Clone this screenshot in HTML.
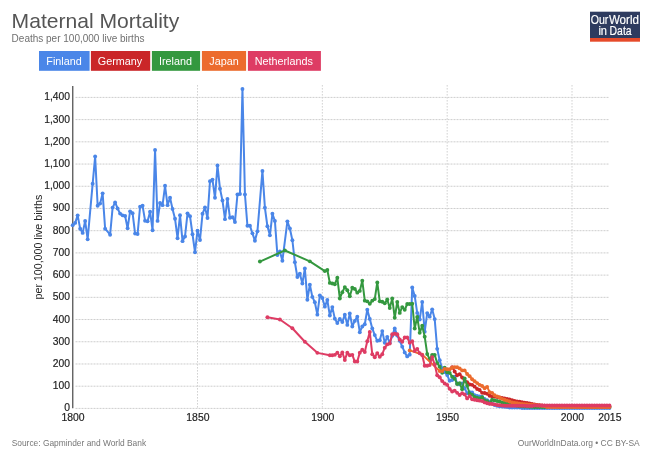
<!DOCTYPE html>
<html><head><meta charset="utf-8">
<style>
html,body{margin:0;padding:0;background:#fff;}
body{width:658px;height:466px;overflow:hidden;position:relative;font-family:"Liberation Sans",sans-serif;}
svg{position:absolute;left:0;top:0;will-change:transform;}
.g{stroke:#cdcdcd;stroke-width:1;stroke-dasharray:2,1;}
.gv{stroke:#d2d2d2;stroke-width:1;stroke-dasharray:1.6,1.4;}
.yt{font-size:10.3px;fill:#222;stroke:#222;stroke-width:0.18;text-anchor:end;}
.xt{font-size:10.4px;fill:#222;stroke:#222;stroke-width:0.18;text-anchor:middle;}
.yl{font-size:10.65px;fill:#222;text-anchor:middle;}
.btn{font-size:10.8px;fill:#fff;text-anchor:middle;}
</style></head><body>
<svg width="658" height="466" viewBox="0 0 658 466">
<text x="11.6" y="27.7" style="font-size:21.1px;fill:#555">Maternal Mortality</text>
<text x="11.6" y="41.8" style="font-size:10px;fill:#707070">Deaths per 100,000 live births</text>
<rect x="39" y="51" width="50.6" height="19.8" fill="#4A86E8"/><text x="64" y="64.5" class="btn">Finland</text>
<rect x="90.9" y="51" width="59.3" height="19.8" fill="#CA2628"/><text x="120" y="64.5" class="btn">Germany</text>
<rect x="151.9" y="51" width="48.2" height="19.8" fill="#34983F"/><text x="175.4" y="64.5" class="btn">Ireland</text>
<rect x="201.9" y="51" width="44.2" height="19.8" fill="#EC6B2D"/><text x="224" y="64.5" class="btn">Japan</text>
<rect x="247.9" y="51" width="73" height="19.8" fill="#DE3C64"/><text x="283.8" y="64.5" class="btn">Netherlands</text>
<rect x="590" y="11.7" width="50" height="26.3" fill="#2E3B5F"/>
<rect x="590" y="38" width="50" height="3.7" fill="#E64A2A"/>
<g style="font-size:12.8px;fill:#fff;stroke:#fff;stroke-width:0.2">
<text x="590.8" y="23.8" textLength="17.6" lengthAdjust="spacingAndGlyphs">Our</text>
<text x="608.9" y="23.8" textLength="30" lengthAdjust="spacingAndGlyphs">World</text>
<text x="598.4" y="34.5" textLength="8.6" lengthAdjust="spacingAndGlyphs">in</text>
<text x="609.6" y="34.5" textLength="22" lengthAdjust="spacingAndGlyphs">Data</text>
</g>
<line x1="75.5" x2="608.5" y1="408.4" y2="408.4" class="g"/>
<line x1="75.5" x2="608.5" y1="386.19" y2="386.19" class="g"/>
<line x1="75.5" x2="608.5" y1="363.97" y2="363.97" class="g"/>
<line x1="75.5" x2="608.5" y1="341.76" y2="341.76" class="g"/>
<line x1="75.5" x2="608.5" y1="319.54" y2="319.54" class="g"/>
<line x1="75.5" x2="608.5" y1="297.33" y2="297.33" class="g"/>
<line x1="75.5" x2="608.5" y1="275.12" y2="275.12" class="g"/>
<line x1="75.5" x2="608.5" y1="252.9" y2="252.9" class="g"/>
<line x1="75.5" x2="608.5" y1="230.69" y2="230.69" class="g"/>
<line x1="75.5" x2="608.5" y1="208.47" y2="208.47" class="g"/>
<line x1="75.5" x2="608.5" y1="186.26" y2="186.26" class="g"/>
<line x1="75.5" x2="608.5" y1="164.05" y2="164.05" class="g"/>
<line x1="75.5" x2="608.5" y1="141.83" y2="141.83" class="g"/>
<line x1="75.5" x2="608.5" y1="119.62" y2="119.62" class="g"/>
<line x1="75.5" x2="608.5" y1="97.4" y2="97.4" class="g"/>
<line x1="197.5" x2="197.5" y1="85" y2="409" class="gv"/>
<line x1="322.34" x2="322.34" y1="85" y2="409" class="gv"/>
<line x1="447.18" x2="447.18" y1="85" y2="409" class="gv"/>
<line x1="572.01" x2="572.01" y1="85" y2="409" class="gv"/>
<line x1="72.75" x2="72.75" y1="86" y2="408.3" stroke="#555" stroke-width="1.3"/>
<text x="70" y="411.4" class="yt">0</text>
<text x="70" y="389.19" class="yt">100</text>
<text x="70" y="366.97" class="yt">200</text>
<text x="70" y="344.76" class="yt">300</text>
<text x="70" y="322.54" class="yt">400</text>
<text x="70" y="300.33" class="yt">500</text>
<text x="70" y="278.12" class="yt">600</text>
<text x="70" y="255.9" class="yt">700</text>
<text x="70" y="233.69" class="yt">800</text>
<text x="70" y="211.47" class="yt">900</text>
<text x="70" y="189.26" class="yt">1,000</text>
<text x="70" y="167.05" class="yt">1,100</text>
<text x="70" y="144.83" class="yt">1,200</text>
<text x="70" y="122.62" class="yt">1,300</text>
<text x="70" y="100.4" class="yt">1,400</text>
<text x="73.07" y="421" class="xt">1800</text>
<text x="197.91" y="421" class="xt">1850</text>
<text x="322.74" y="421" class="xt">1900</text>
<text x="447.57" y="421" class="xt">1950</text>
<text x="572.41" y="421" class="xt">2000</text>
<text x="609.86" y="421" class="xt">2015</text>
<text transform="translate(41.7,247.1) rotate(-90)" class="yl">per 100,000 live births</text>
<g fill="#4A86E8" stroke="#4A86E8"><polyline points="72.67,225.13 75.17,222.91 77.66,215.36 80.16,228.69 82.66,232.91 85.15,220.91 87.65,239.35 92.64,183.82 95.14,156.49 97.64,205.81 100.13,203.59 102.63,193.37 105.13,228.69 110.12,234.69 112.62,207.59 115.11,202.48 117.61,208.47 120.11,213.58 122.6,215.36 125.1,216.03 127.6,228.24 130.09,211.36 132.59,213.14 135.09,233.58 137.58,234.02 140.08,206.7 142.58,205.81 145.07,220.69 147.57,221.36 150.07,211.81 152.56,230.24 155.06,150.05 157.56,220.91 160.05,202.92 162.55,205.14 165.05,185.82 167.54,205.14 170.04,197.81 172.54,208.92 175.03,218.69 177.53,238.24 180.03,215.14 182.52,241.13 185.02,236.46 187.52,213.36 190.01,216.25 192.51,234.24 195.01,252.24 197.5,230.69 200,240.02 202.5,213.81 205,207.36 207.49,218.03 209.99,181.15 212.49,179.6 214.98,197.81 217.48,165.38 219.98,188.7 222.47,200.48 224.97,219.14 227.47,198.92 229.96,217.8 232.46,217.14 234.96,222.02 237.45,194.48 239.95,194.03 242.45,88.96 244.94,194.48 247.44,225.8 249.94,225.8 252.43,233.35 254.93,240.68 257.43,231.35 262.42,170.93 264.92,207.81 267.41,226.25 269.91,235.35 272.41,213.81 274.9,220.91 277.4,255.12 279.9,251.57 282.39,260.68 287.39,221.36 289.88,228.47 292.38,240.24 294.88,262.23 297.37,277.12 299.87,273.78 302.37,283.56 304.86,268.45 307.36,299.77 309.86,284.67 312.35,296.89 314.85,302.22 317.35,314.66 319.84,295.33 322.34,298 324.84,306.66 327.33,300 329.83,315.55 332.33,307.1 334.82,318.66 337.32,323.1 339.82,318.88 342.31,321.99 344.81,314.66 347.31,324.88 349.8,313.55 352.3,326.43 354.8,320.88 357.29,316.66 359.79,332.21 362.29,326.43 364.78,324.21 367.28,309.77 369.78,318.88 372.27,328.43 374.77,335.09 377.27,340.87 379.76,340.2 382.26,331.1 384.76,342.87 387.25,336.87 389.75,342.87 392.25,335.76 394.74,328.43 397.24,335.54 399.74,340.87 402.23,346.65 404.73,352.42 407.23,356.42 409.72,354.64 412.22,287.56 414.72,296 417.21,312.88 419.71,319.54 422.21,301.99 424.7,331.76 427.2,313.1 429.7,316.66 432.19,309.33 434.69,319.1 437.19,348.87 439.68,360.2 442.18,368.41 444.68,371.97 447.18,375.08 449.67,380.85 452.17,379.97 454.67,376.63 457.16,383.52 459.66,384.41 462.16,383.52 464.65,388.41 467.15,393.29 469.65,392.18 472.14,392.41 474.64,395.29 477.14,395.96 479.63,396.4 482.13,396.85 484.63,399.07 487.12,400.18 489.62,401.74 492.12,403.51 494.61,405.07 497.11,405.73 499.61,406.18 502.1,406.62 504.6,406.85 507.1,407.07 509.59,407.51 512.09,407.51 514.59,407.51 517.08,407.51 519.58,407.51 522.08,407.96 524.57,407.96 527.07,407.96 529.57,407.96 532.06,407.96 534.56,407.96 537.06,407.96 539.55,407.96 542.05,407.96 544.55,407.96 547.04,407.96 549.54,407.96 552.04,407.96 554.53,407.96 557.03,407.96 559.53,407.96 562.02,407.96 564.52,407.96 567.02,407.96 569.51,407.96 572.01,407.96 574.51,407.96 577,407.96 579.5,407.96 582,407.96 584.49,407.96 586.99,407.96 589.49,407.96 591.98,407.96 594.48,407.96 596.98,407.96 599.47,407.96 601.97,407.96 604.47,407.96 606.96,407.96 609.46,407.96" fill="none" stroke-width="2" stroke-linejoin="round"/>
<circle cx="72.67" cy="225.13" r="1.95" stroke="none"/><circle cx="75.17" cy="222.91" r="1.95" stroke="none"/><circle cx="77.66" cy="215.36" r="1.95" stroke="none"/><circle cx="80.16" cy="228.69" r="1.95" stroke="none"/><circle cx="82.66" cy="232.91" r="1.95" stroke="none"/><circle cx="85.15" cy="220.91" r="1.95" stroke="none"/><circle cx="87.65" cy="239.35" r="1.95" stroke="none"/><circle cx="92.64" cy="183.82" r="1.95" stroke="none"/><circle cx="95.14" cy="156.49" r="1.95" stroke="none"/><circle cx="97.64" cy="205.81" r="1.95" stroke="none"/><circle cx="100.13" cy="203.59" r="1.95" stroke="none"/><circle cx="102.63" cy="193.37" r="1.95" stroke="none"/><circle cx="105.13" cy="228.69" r="1.95" stroke="none"/><circle cx="110.12" cy="234.69" r="1.95" stroke="none"/><circle cx="112.62" cy="207.59" r="1.95" stroke="none"/><circle cx="115.11" cy="202.48" r="1.95" stroke="none"/><circle cx="117.61" cy="208.47" r="1.95" stroke="none"/><circle cx="120.11" cy="213.58" r="1.95" stroke="none"/><circle cx="122.6" cy="215.36" r="1.95" stroke="none"/><circle cx="125.1" cy="216.03" r="1.95" stroke="none"/><circle cx="127.6" cy="228.24" r="1.95" stroke="none"/><circle cx="130.09" cy="211.36" r="1.95" stroke="none"/><circle cx="132.59" cy="213.14" r="1.95" stroke="none"/><circle cx="135.09" cy="233.58" r="1.95" stroke="none"/><circle cx="137.58" cy="234.02" r="1.95" stroke="none"/><circle cx="140.08" cy="206.7" r="1.95" stroke="none"/><circle cx="142.58" cy="205.81" r="1.95" stroke="none"/><circle cx="145.07" cy="220.69" r="1.95" stroke="none"/><circle cx="147.57" cy="221.36" r="1.95" stroke="none"/><circle cx="150.07" cy="211.81" r="1.95" stroke="none"/><circle cx="152.56" cy="230.24" r="1.95" stroke="none"/><circle cx="155.06" cy="150.05" r="1.95" stroke="none"/><circle cx="157.56" cy="220.91" r="1.95" stroke="none"/><circle cx="160.05" cy="202.92" r="1.95" stroke="none"/><circle cx="162.55" cy="205.14" r="1.95" stroke="none"/><circle cx="165.05" cy="185.82" r="1.95" stroke="none"/><circle cx="167.54" cy="205.14" r="1.95" stroke="none"/><circle cx="170.04" cy="197.81" r="1.95" stroke="none"/><circle cx="172.54" cy="208.92" r="1.95" stroke="none"/><circle cx="175.03" cy="218.69" r="1.95" stroke="none"/><circle cx="177.53" cy="238.24" r="1.95" stroke="none"/><circle cx="180.03" cy="215.14" r="1.95" stroke="none"/><circle cx="182.52" cy="241.13" r="1.95" stroke="none"/><circle cx="185.02" cy="236.46" r="1.95" stroke="none"/><circle cx="187.52" cy="213.36" r="1.95" stroke="none"/><circle cx="190.01" cy="216.25" r="1.95" stroke="none"/><circle cx="192.51" cy="234.24" r="1.95" stroke="none"/><circle cx="195.01" cy="252.24" r="1.95" stroke="none"/><circle cx="197.5" cy="230.69" r="1.95" stroke="none"/><circle cx="200" cy="240.02" r="1.95" stroke="none"/><circle cx="202.5" cy="213.81" r="1.95" stroke="none"/><circle cx="205" cy="207.36" r="1.95" stroke="none"/><circle cx="207.49" cy="218.03" r="1.95" stroke="none"/><circle cx="209.99" cy="181.15" r="1.95" stroke="none"/><circle cx="212.49" cy="179.6" r="1.95" stroke="none"/><circle cx="214.98" cy="197.81" r="1.95" stroke="none"/><circle cx="217.48" cy="165.38" r="1.95" stroke="none"/><circle cx="219.98" cy="188.7" r="1.95" stroke="none"/><circle cx="222.47" cy="200.48" r="1.95" stroke="none"/><circle cx="224.97" cy="219.14" r="1.95" stroke="none"/><circle cx="227.47" cy="198.92" r="1.95" stroke="none"/><circle cx="229.96" cy="217.8" r="1.95" stroke="none"/><circle cx="232.46" cy="217.14" r="1.95" stroke="none"/><circle cx="234.96" cy="222.02" r="1.95" stroke="none"/><circle cx="237.45" cy="194.48" r="1.95" stroke="none"/><circle cx="239.95" cy="194.03" r="1.95" stroke="none"/><circle cx="242.45" cy="88.96" r="1.95" stroke="none"/><circle cx="244.94" cy="194.48" r="1.95" stroke="none"/><circle cx="247.44" cy="225.8" r="1.95" stroke="none"/><circle cx="249.94" cy="225.8" r="1.95" stroke="none"/><circle cx="252.43" cy="233.35" r="1.95" stroke="none"/><circle cx="254.93" cy="240.68" r="1.95" stroke="none"/><circle cx="257.43" cy="231.35" r="1.95" stroke="none"/><circle cx="262.42" cy="170.93" r="1.95" stroke="none"/><circle cx="264.92" cy="207.81" r="1.95" stroke="none"/><circle cx="267.41" cy="226.25" r="1.95" stroke="none"/><circle cx="269.91" cy="235.35" r="1.95" stroke="none"/><circle cx="272.41" cy="213.81" r="1.95" stroke="none"/><circle cx="274.9" cy="220.91" r="1.95" stroke="none"/><circle cx="277.4" cy="255.12" r="1.95" stroke="none"/><circle cx="279.9" cy="251.57" r="1.95" stroke="none"/><circle cx="282.39" cy="260.68" r="1.95" stroke="none"/><circle cx="287.39" cy="221.36" r="1.95" stroke="none"/><circle cx="289.88" cy="228.47" r="1.95" stroke="none"/><circle cx="292.38" cy="240.24" r="1.95" stroke="none"/><circle cx="294.88" cy="262.23" r="1.95" stroke="none"/><circle cx="297.37" cy="277.12" r="1.95" stroke="none"/><circle cx="299.87" cy="273.78" r="1.95" stroke="none"/><circle cx="302.37" cy="283.56" r="1.95" stroke="none"/><circle cx="304.86" cy="268.45" r="1.95" stroke="none"/><circle cx="307.36" cy="299.77" r="1.95" stroke="none"/><circle cx="309.86" cy="284.67" r="1.95" stroke="none"/><circle cx="312.35" cy="296.89" r="1.95" stroke="none"/><circle cx="314.85" cy="302.22" r="1.95" stroke="none"/><circle cx="317.35" cy="314.66" r="1.95" stroke="none"/><circle cx="319.84" cy="295.33" r="1.95" stroke="none"/><circle cx="322.34" cy="298" r="1.95" stroke="none"/><circle cx="324.84" cy="306.66" r="1.95" stroke="none"/><circle cx="327.33" cy="300" r="1.95" stroke="none"/><circle cx="329.83" cy="315.55" r="1.95" stroke="none"/><circle cx="332.33" cy="307.1" r="1.95" stroke="none"/><circle cx="334.82" cy="318.66" r="1.95" stroke="none"/><circle cx="337.32" cy="323.1" r="1.95" stroke="none"/><circle cx="339.82" cy="318.88" r="1.95" stroke="none"/><circle cx="342.31" cy="321.99" r="1.95" stroke="none"/><circle cx="344.81" cy="314.66" r="1.95" stroke="none"/><circle cx="347.31" cy="324.88" r="1.95" stroke="none"/><circle cx="349.8" cy="313.55" r="1.95" stroke="none"/><circle cx="352.3" cy="326.43" r="1.95" stroke="none"/><circle cx="354.8" cy="320.88" r="1.95" stroke="none"/><circle cx="357.29" cy="316.66" r="1.95" stroke="none"/><circle cx="359.79" cy="332.21" r="1.95" stroke="none"/><circle cx="362.29" cy="326.43" r="1.95" stroke="none"/><circle cx="364.78" cy="324.21" r="1.95" stroke="none"/><circle cx="367.28" cy="309.77" r="1.95" stroke="none"/><circle cx="369.78" cy="318.88" r="1.95" stroke="none"/><circle cx="372.27" cy="328.43" r="1.95" stroke="none"/><circle cx="374.77" cy="335.09" r="1.95" stroke="none"/><circle cx="377.27" cy="340.87" r="1.95" stroke="none"/><circle cx="379.76" cy="340.2" r="1.95" stroke="none"/><circle cx="382.26" cy="331.1" r="1.95" stroke="none"/><circle cx="384.76" cy="342.87" r="1.95" stroke="none"/><circle cx="387.25" cy="336.87" r="1.95" stroke="none"/><circle cx="389.75" cy="342.87" r="1.95" stroke="none"/><circle cx="392.25" cy="335.76" r="1.95" stroke="none"/><circle cx="394.74" cy="328.43" r="1.95" stroke="none"/><circle cx="397.24" cy="335.54" r="1.95" stroke="none"/><circle cx="399.74" cy="340.87" r="1.95" stroke="none"/><circle cx="402.23" cy="346.65" r="1.95" stroke="none"/><circle cx="404.73" cy="352.42" r="1.95" stroke="none"/><circle cx="407.23" cy="356.42" r="1.95" stroke="none"/><circle cx="409.72" cy="354.64" r="1.95" stroke="none"/><circle cx="412.22" cy="287.56" r="1.95" stroke="none"/><circle cx="414.72" cy="296" r="1.95" stroke="none"/><circle cx="417.21" cy="312.88" r="1.95" stroke="none"/><circle cx="419.71" cy="319.54" r="1.95" stroke="none"/><circle cx="422.21" cy="301.99" r="1.95" stroke="none"/><circle cx="424.7" cy="331.76" r="1.95" stroke="none"/><circle cx="427.2" cy="313.1" r="1.95" stroke="none"/><circle cx="429.7" cy="316.66" r="1.95" stroke="none"/><circle cx="432.19" cy="309.33" r="1.95" stroke="none"/><circle cx="434.69" cy="319.1" r="1.95" stroke="none"/><circle cx="437.19" cy="348.87" r="1.95" stroke="none"/><circle cx="439.68" cy="360.2" r="1.95" stroke="none"/><circle cx="442.18" cy="368.41" r="1.95" stroke="none"/><circle cx="444.68" cy="371.97" r="1.95" stroke="none"/><circle cx="447.18" cy="375.08" r="1.95" stroke="none"/><circle cx="449.67" cy="380.85" r="1.95" stroke="none"/><circle cx="452.17" cy="379.97" r="1.95" stroke="none"/><circle cx="454.67" cy="376.63" r="1.95" stroke="none"/><circle cx="457.16" cy="383.52" r="1.95" stroke="none"/><circle cx="459.66" cy="384.41" r="1.95" stroke="none"/><circle cx="462.16" cy="383.52" r="1.95" stroke="none"/><circle cx="464.65" cy="388.41" r="1.95" stroke="none"/><circle cx="467.15" cy="393.29" r="1.95" stroke="none"/><circle cx="469.65" cy="392.18" r="1.95" stroke="none"/><circle cx="472.14" cy="392.41" r="1.95" stroke="none"/><circle cx="474.64" cy="395.29" r="1.95" stroke="none"/><circle cx="477.14" cy="395.96" r="1.95" stroke="none"/><circle cx="479.63" cy="396.4" r="1.95" stroke="none"/><circle cx="482.13" cy="396.85" r="1.95" stroke="none"/><circle cx="484.63" cy="399.07" r="1.95" stroke="none"/><circle cx="487.12" cy="400.18" r="1.95" stroke="none"/><circle cx="489.62" cy="401.74" r="1.95" stroke="none"/><circle cx="492.12" cy="403.51" r="1.95" stroke="none"/><circle cx="494.61" cy="405.07" r="1.95" stroke="none"/><circle cx="497.11" cy="405.73" r="1.95" stroke="none"/><circle cx="499.61" cy="406.18" r="1.95" stroke="none"/><circle cx="502.1" cy="406.62" r="1.95" stroke="none"/><circle cx="504.6" cy="406.85" r="1.95" stroke="none"/><circle cx="507.1" cy="407.07" r="1.95" stroke="none"/><circle cx="509.59" cy="407.51" r="1.95" stroke="none"/><circle cx="512.09" cy="407.51" r="1.95" stroke="none"/><circle cx="514.59" cy="407.51" r="1.95" stroke="none"/><circle cx="517.08" cy="407.51" r="1.95" stroke="none"/><circle cx="519.58" cy="407.51" r="1.95" stroke="none"/><circle cx="522.08" cy="407.96" r="1.95" stroke="none"/><circle cx="524.57" cy="407.96" r="1.95" stroke="none"/><circle cx="527.07" cy="407.96" r="1.95" stroke="none"/><circle cx="529.57" cy="407.96" r="1.95" stroke="none"/><circle cx="532.06" cy="407.96" r="1.95" stroke="none"/><circle cx="534.56" cy="407.96" r="1.95" stroke="none"/><circle cx="537.06" cy="407.96" r="1.95" stroke="none"/><circle cx="539.55" cy="407.96" r="1.95" stroke="none"/><circle cx="542.05" cy="407.96" r="1.95" stroke="none"/><circle cx="544.55" cy="407.96" r="1.95" stroke="none"/><circle cx="547.04" cy="407.96" r="1.95" stroke="none"/><circle cx="549.54" cy="407.96" r="1.95" stroke="none"/><circle cx="552.04" cy="407.96" r="1.95" stroke="none"/><circle cx="554.53" cy="407.96" r="1.95" stroke="none"/><circle cx="557.03" cy="407.96" r="1.95" stroke="none"/><circle cx="559.53" cy="407.96" r="1.95" stroke="none"/><circle cx="562.02" cy="407.96" r="1.95" stroke="none"/><circle cx="564.52" cy="407.96" r="1.95" stroke="none"/><circle cx="567.02" cy="407.96" r="1.95" stroke="none"/><circle cx="569.51" cy="407.96" r="1.95" stroke="none"/><circle cx="572.01" cy="407.96" r="1.95" stroke="none"/><circle cx="574.51" cy="407.96" r="1.95" stroke="none"/><circle cx="577" cy="407.96" r="1.95" stroke="none"/><circle cx="579.5" cy="407.96" r="1.95" stroke="none"/><circle cx="582" cy="407.96" r="1.95" stroke="none"/><circle cx="584.49" cy="407.96" r="1.95" stroke="none"/><circle cx="586.99" cy="407.96" r="1.95" stroke="none"/><circle cx="589.49" cy="407.96" r="1.95" stroke="none"/><circle cx="591.98" cy="407.96" r="1.95" stroke="none"/><circle cx="594.48" cy="407.96" r="1.95" stroke="none"/><circle cx="596.98" cy="407.96" r="1.95" stroke="none"/><circle cx="599.47" cy="407.96" r="1.95" stroke="none"/><circle cx="601.97" cy="407.96" r="1.95" stroke="none"/><circle cx="604.47" cy="407.96" r="1.95" stroke="none"/><circle cx="606.96" cy="407.96" r="1.95" stroke="none"/><circle cx="609.46" cy="407.96" r="1.95" stroke="none"/></g>
<g fill="#CA2628" stroke="#CA2628"><polyline points="452.17,367.08 454.67,371.52 457.16,375.3 459.66,374.19 462.16,377.52 464.65,380.85 467.15,382.19 469.65,384.41 472.14,384.85 474.64,386.63 477.14,389.07 479.63,389.96 482.13,392.85 484.63,393.07 487.12,393.74 489.62,395.74 492.12,396.4 494.61,396.63 497.11,397.07 499.61,397.52 502.1,397.96 504.6,398.4 507.1,399.07 509.59,399.51 512.09,400.18 514.59,400.85 517.08,401.51 519.58,401.74 522.08,402.18 524.57,402.62 527.07,403.07 529.57,403.51 532.06,403.96 534.56,404.4 537.06,404.85 539.55,405.29 542.05,405.51 544.55,405.73 547.04,405.96 549.54,406.18 552.04,406.4 554.53,406.4 557.03,406.62 559.53,406.62 562.02,406.62 564.52,406.62 567.02,406.62 569.51,406.62 572.01,406.62 574.51,406.62 577,406.85 579.5,406.85 582,406.85 584.49,406.85 586.99,406.85 589.49,406.85 591.98,406.85 594.48,406.85 596.98,406.85 599.47,406.85 601.97,406.85 604.47,406.85 606.96,406.85 609.46,406.85" fill="none" stroke-width="2" stroke-linejoin="round"/>
<circle cx="452.17" cy="367.08" r="1.95" stroke="none"/><circle cx="454.67" cy="371.52" r="1.95" stroke="none"/><circle cx="457.16" cy="375.3" r="1.95" stroke="none"/><circle cx="459.66" cy="374.19" r="1.95" stroke="none"/><circle cx="462.16" cy="377.52" r="1.95" stroke="none"/><circle cx="464.65" cy="380.85" r="1.95" stroke="none"/><circle cx="467.15" cy="382.19" r="1.95" stroke="none"/><circle cx="469.65" cy="384.41" r="1.95" stroke="none"/><circle cx="472.14" cy="384.85" r="1.95" stroke="none"/><circle cx="474.64" cy="386.63" r="1.95" stroke="none"/><circle cx="477.14" cy="389.07" r="1.95" stroke="none"/><circle cx="479.63" cy="389.96" r="1.95" stroke="none"/><circle cx="482.13" cy="392.85" r="1.95" stroke="none"/><circle cx="484.63" cy="393.07" r="1.95" stroke="none"/><circle cx="487.12" cy="393.74" r="1.95" stroke="none"/><circle cx="489.62" cy="395.74" r="1.95" stroke="none"/><circle cx="492.12" cy="396.4" r="1.95" stroke="none"/><circle cx="494.61" cy="396.63" r="1.95" stroke="none"/><circle cx="497.11" cy="397.07" r="1.95" stroke="none"/><circle cx="499.61" cy="397.52" r="1.95" stroke="none"/><circle cx="502.1" cy="397.96" r="1.95" stroke="none"/><circle cx="504.6" cy="398.4" r="1.95" stroke="none"/><circle cx="507.1" cy="399.07" r="1.95" stroke="none"/><circle cx="509.59" cy="399.51" r="1.95" stroke="none"/><circle cx="512.09" cy="400.18" r="1.95" stroke="none"/><circle cx="514.59" cy="400.85" r="1.95" stroke="none"/><circle cx="517.08" cy="401.51" r="1.95" stroke="none"/><circle cx="519.58" cy="401.74" r="1.95" stroke="none"/><circle cx="522.08" cy="402.18" r="1.95" stroke="none"/><circle cx="524.57" cy="402.62" r="1.95" stroke="none"/><circle cx="527.07" cy="403.07" r="1.95" stroke="none"/><circle cx="529.57" cy="403.51" r="1.95" stroke="none"/><circle cx="532.06" cy="403.96" r="1.95" stroke="none"/><circle cx="534.56" cy="404.4" r="1.95" stroke="none"/><circle cx="537.06" cy="404.85" r="1.95" stroke="none"/><circle cx="539.55" cy="405.29" r="1.95" stroke="none"/><circle cx="542.05" cy="405.51" r="1.95" stroke="none"/><circle cx="544.55" cy="405.73" r="1.95" stroke="none"/><circle cx="547.04" cy="405.96" r="1.95" stroke="none"/><circle cx="549.54" cy="406.18" r="1.95" stroke="none"/><circle cx="552.04" cy="406.4" r="1.95" stroke="none"/><circle cx="554.53" cy="406.4" r="1.95" stroke="none"/><circle cx="557.03" cy="406.62" r="1.95" stroke="none"/><circle cx="559.53" cy="406.62" r="1.95" stroke="none"/><circle cx="562.02" cy="406.62" r="1.95" stroke="none"/><circle cx="564.52" cy="406.62" r="1.95" stroke="none"/><circle cx="567.02" cy="406.62" r="1.95" stroke="none"/><circle cx="569.51" cy="406.62" r="1.95" stroke="none"/><circle cx="572.01" cy="406.62" r="1.95" stroke="none"/><circle cx="574.51" cy="406.62" r="1.95" stroke="none"/><circle cx="577" cy="406.85" r="1.95" stroke="none"/><circle cx="579.5" cy="406.85" r="1.95" stroke="none"/><circle cx="582" cy="406.85" r="1.95" stroke="none"/><circle cx="584.49" cy="406.85" r="1.95" stroke="none"/><circle cx="586.99" cy="406.85" r="1.95" stroke="none"/><circle cx="589.49" cy="406.85" r="1.95" stroke="none"/><circle cx="591.98" cy="406.85" r="1.95" stroke="none"/><circle cx="594.48" cy="406.85" r="1.95" stroke="none"/><circle cx="596.98" cy="406.85" r="1.95" stroke="none"/><circle cx="599.47" cy="406.85" r="1.95" stroke="none"/><circle cx="601.97" cy="406.85" r="1.95" stroke="none"/><circle cx="604.47" cy="406.85" r="1.95" stroke="none"/><circle cx="606.96" cy="406.85" r="1.95" stroke="none"/><circle cx="609.46" cy="406.85" r="1.95" stroke="none"/></g>
<g fill="#34983F" stroke="#34983F"><polyline points="259.92,261.57 284.89,250.46 309.86,261.34 324.84,271.12 327.33,270.01 329.83,282.89 332.33,283.56 334.82,284.22 337.32,277.78 339.82,298.44 342.31,292.22 344.81,287.11 347.31,290.22 349.8,296.22 352.3,287.78 354.8,288.89 357.29,292.67 359.79,290.89 362.29,280.67 364.78,300.66 367.28,301.33 369.78,303.77 372.27,300.66 374.77,299.11 377.27,282.45 379.76,301.33 382.26,301.77 384.76,303.33 387.25,299.55 389.75,307.99 392.25,298.44 394.74,317.77 397.24,301.99 399.74,312.88 402.23,307.1 404.73,309.77 407.23,303.99 409.72,303.99 412.22,303.77 414.72,328.43 417.21,316.88 419.71,332.87 422.21,325.76 424.7,336.65 427.2,353.98 429.7,359.31 432.19,354.86 434.69,354.86 437.19,363.08 439.68,366.64 442.18,372.86 444.68,367.75 447.18,372.19 449.67,372.86 452.17,376.63 454.67,378.63 457.16,383.96 459.66,383.3 462.16,389.3 464.65,378.41 467.15,385.74 469.65,393.52 472.14,394.63 474.64,396.85 477.14,397.74 479.63,398.4 482.13,397.29 484.63,400.4 487.12,401.29 489.62,403.51 492.12,399.74 494.61,400.4 497.11,401.07 499.61,401.51 502.1,402.4 504.6,403.07 507.1,403.74 509.59,404.18 512.09,404.85 514.59,405.29 517.08,405.73 519.58,406.18 522.08,406.4 524.57,406.62 527.07,406.62 529.57,406.85 532.06,406.85 534.56,407.07 537.06,407.07 539.55,407.07 542.05,407.07 544.55,407.07 547.04,407.07 559.53,407.07 572.01,407.07 584.49,407.07 596.98,407.07 609.46,406.85" fill="none" stroke-width="2" stroke-linejoin="round"/>
<circle cx="259.92" cy="261.57" r="1.95" stroke="none"/><circle cx="284.89" cy="250.46" r="1.95" stroke="none"/><circle cx="309.86" cy="261.34" r="1.95" stroke="none"/><circle cx="324.84" cy="271.12" r="1.95" stroke="none"/><circle cx="327.33" cy="270.01" r="1.95" stroke="none"/><circle cx="329.83" cy="282.89" r="1.95" stroke="none"/><circle cx="332.33" cy="283.56" r="1.95" stroke="none"/><circle cx="334.82" cy="284.22" r="1.95" stroke="none"/><circle cx="337.32" cy="277.78" r="1.95" stroke="none"/><circle cx="339.82" cy="298.44" r="1.95" stroke="none"/><circle cx="342.31" cy="292.22" r="1.95" stroke="none"/><circle cx="344.81" cy="287.11" r="1.95" stroke="none"/><circle cx="347.31" cy="290.22" r="1.95" stroke="none"/><circle cx="349.8" cy="296.22" r="1.95" stroke="none"/><circle cx="352.3" cy="287.78" r="1.95" stroke="none"/><circle cx="354.8" cy="288.89" r="1.95" stroke="none"/><circle cx="357.29" cy="292.67" r="1.95" stroke="none"/><circle cx="359.79" cy="290.89" r="1.95" stroke="none"/><circle cx="362.29" cy="280.67" r="1.95" stroke="none"/><circle cx="364.78" cy="300.66" r="1.95" stroke="none"/><circle cx="367.28" cy="301.33" r="1.95" stroke="none"/><circle cx="369.78" cy="303.77" r="1.95" stroke="none"/><circle cx="372.27" cy="300.66" r="1.95" stroke="none"/><circle cx="374.77" cy="299.11" r="1.95" stroke="none"/><circle cx="377.27" cy="282.45" r="1.95" stroke="none"/><circle cx="379.76" cy="301.33" r="1.95" stroke="none"/><circle cx="382.26" cy="301.77" r="1.95" stroke="none"/><circle cx="384.76" cy="303.33" r="1.95" stroke="none"/><circle cx="387.25" cy="299.55" r="1.95" stroke="none"/><circle cx="389.75" cy="307.99" r="1.95" stroke="none"/><circle cx="392.25" cy="298.44" r="1.95" stroke="none"/><circle cx="394.74" cy="317.77" r="1.95" stroke="none"/><circle cx="397.24" cy="301.99" r="1.95" stroke="none"/><circle cx="399.74" cy="312.88" r="1.95" stroke="none"/><circle cx="402.23" cy="307.1" r="1.95" stroke="none"/><circle cx="404.73" cy="309.77" r="1.95" stroke="none"/><circle cx="407.23" cy="303.99" r="1.95" stroke="none"/><circle cx="409.72" cy="303.99" r="1.95" stroke="none"/><circle cx="412.22" cy="303.77" r="1.95" stroke="none"/><circle cx="414.72" cy="328.43" r="1.95" stroke="none"/><circle cx="417.21" cy="316.88" r="1.95" stroke="none"/><circle cx="419.71" cy="332.87" r="1.95" stroke="none"/><circle cx="422.21" cy="325.76" r="1.95" stroke="none"/><circle cx="424.7" cy="336.65" r="1.95" stroke="none"/><circle cx="427.2" cy="353.98" r="1.95" stroke="none"/><circle cx="429.7" cy="359.31" r="1.95" stroke="none"/><circle cx="432.19" cy="354.86" r="1.95" stroke="none"/><circle cx="434.69" cy="354.86" r="1.95" stroke="none"/><circle cx="437.19" cy="363.08" r="1.95" stroke="none"/><circle cx="439.68" cy="366.64" r="1.95" stroke="none"/><circle cx="442.18" cy="372.86" r="1.95" stroke="none"/><circle cx="444.68" cy="367.75" r="1.95" stroke="none"/><circle cx="447.18" cy="372.19" r="1.95" stroke="none"/><circle cx="449.67" cy="372.86" r="1.95" stroke="none"/><circle cx="452.17" cy="376.63" r="1.95" stroke="none"/><circle cx="454.67" cy="378.63" r="1.95" stroke="none"/><circle cx="457.16" cy="383.96" r="1.95" stroke="none"/><circle cx="459.66" cy="383.3" r="1.95" stroke="none"/><circle cx="462.16" cy="389.3" r="1.95" stroke="none"/><circle cx="464.65" cy="378.41" r="1.95" stroke="none"/><circle cx="467.15" cy="385.74" r="1.95" stroke="none"/><circle cx="469.65" cy="393.52" r="1.95" stroke="none"/><circle cx="472.14" cy="394.63" r="1.95" stroke="none"/><circle cx="474.64" cy="396.85" r="1.95" stroke="none"/><circle cx="477.14" cy="397.74" r="1.95" stroke="none"/><circle cx="479.63" cy="398.4" r="1.95" stroke="none"/><circle cx="482.13" cy="397.29" r="1.95" stroke="none"/><circle cx="484.63" cy="400.4" r="1.95" stroke="none"/><circle cx="487.12" cy="401.29" r="1.95" stroke="none"/><circle cx="489.62" cy="403.51" r="1.95" stroke="none"/><circle cx="492.12" cy="399.74" r="1.95" stroke="none"/><circle cx="494.61" cy="400.4" r="1.95" stroke="none"/><circle cx="497.11" cy="401.07" r="1.95" stroke="none"/><circle cx="499.61" cy="401.51" r="1.95" stroke="none"/><circle cx="502.1" cy="402.4" r="1.95" stroke="none"/><circle cx="504.6" cy="403.07" r="1.95" stroke="none"/><circle cx="507.1" cy="403.74" r="1.95" stroke="none"/><circle cx="509.59" cy="404.18" r="1.95" stroke="none"/><circle cx="512.09" cy="404.85" r="1.95" stroke="none"/><circle cx="514.59" cy="405.29" r="1.95" stroke="none"/><circle cx="517.08" cy="405.73" r="1.95" stroke="none"/><circle cx="519.58" cy="406.18" r="1.95" stroke="none"/><circle cx="522.08" cy="406.4" r="1.95" stroke="none"/><circle cx="524.57" cy="406.62" r="1.95" stroke="none"/><circle cx="527.07" cy="406.62" r="1.95" stroke="none"/><circle cx="529.57" cy="406.85" r="1.95" stroke="none"/><circle cx="532.06" cy="406.85" r="1.95" stroke="none"/><circle cx="534.56" cy="407.07" r="1.95" stroke="none"/><circle cx="537.06" cy="407.07" r="1.95" stroke="none"/><circle cx="539.55" cy="407.07" r="1.95" stroke="none"/><circle cx="542.05" cy="407.07" r="1.95" stroke="none"/><circle cx="544.55" cy="407.07" r="1.95" stroke="none"/><circle cx="547.04" cy="407.07" r="1.95" stroke="none"/><circle cx="559.53" cy="407.07" r="1.95" stroke="none"/><circle cx="572.01" cy="407.07" r="1.95" stroke="none"/><circle cx="584.49" cy="407.07" r="1.95" stroke="none"/><circle cx="596.98" cy="407.07" r="1.95" stroke="none"/><circle cx="609.46" cy="406.85" r="1.95" stroke="none"/></g>
<g fill="#EC6B2D" stroke="#EC6B2D"><polyline points="409.72,350.42 422.21,354.64 439.68,371.08 442.18,371.08 444.68,368.86 447.18,369.3 449.67,369.3 452.17,367.75 454.67,367.08 457.16,367.3 459.66,368.41 462.16,370.41 464.65,370.41 467.15,373.97 469.65,376.19 472.14,379.3 474.64,381.3 477.14,383.08 479.63,384.85 482.13,385.96 484.63,388.19 487.12,386.85 489.62,392.18 492.12,392.85 494.61,395.29 497.11,396.4 499.61,397.52 502.1,398.85 504.6,399.74 507.1,400.63 509.59,401.51 512.09,402.4 514.59,402.85 517.08,403.29 519.58,403.74 522.08,403.96 524.57,404.18 527.07,404.4 529.57,404.62 532.06,404.85 534.56,405.07 537.06,405.29 539.55,405.51 542.05,405.73 544.55,405.96 547.04,407.07 549.54,407.07 552.04,407.07 554.53,407.07 557.03,407.07 559.53,407.07 562.02,407.07 564.52,407.07 567.02,407.07 569.51,407.07 572.01,407.07 574.51,407.07 577,407.07 579.5,407.07 582,407.07 584.49,407.07 586.99,407.07 589.49,407.07 591.98,407.07 594.48,407.07 596.98,407.07 599.47,407.07 601.97,407.07 604.47,407.07 606.96,407.07 609.46,407.07" fill="none" stroke-width="2" stroke-linejoin="round"/>
<circle cx="409.72" cy="350.42" r="1.95" stroke="none"/><circle cx="422.21" cy="354.64" r="1.95" stroke="none"/><circle cx="439.68" cy="371.08" r="1.95" stroke="none"/><circle cx="442.18" cy="371.08" r="1.95" stroke="none"/><circle cx="444.68" cy="368.86" r="1.95" stroke="none"/><circle cx="447.18" cy="369.3" r="1.95" stroke="none"/><circle cx="449.67" cy="369.3" r="1.95" stroke="none"/><circle cx="452.17" cy="367.75" r="1.95" stroke="none"/><circle cx="454.67" cy="367.08" r="1.95" stroke="none"/><circle cx="457.16" cy="367.3" r="1.95" stroke="none"/><circle cx="459.66" cy="368.41" r="1.95" stroke="none"/><circle cx="462.16" cy="370.41" r="1.95" stroke="none"/><circle cx="464.65" cy="370.41" r="1.95" stroke="none"/><circle cx="467.15" cy="373.97" r="1.95" stroke="none"/><circle cx="469.65" cy="376.19" r="1.95" stroke="none"/><circle cx="472.14" cy="379.3" r="1.95" stroke="none"/><circle cx="474.64" cy="381.3" r="1.95" stroke="none"/><circle cx="477.14" cy="383.08" r="1.95" stroke="none"/><circle cx="479.63" cy="384.85" r="1.95" stroke="none"/><circle cx="482.13" cy="385.96" r="1.95" stroke="none"/><circle cx="484.63" cy="388.19" r="1.95" stroke="none"/><circle cx="487.12" cy="386.85" r="1.95" stroke="none"/><circle cx="489.62" cy="392.18" r="1.95" stroke="none"/><circle cx="492.12" cy="392.85" r="1.95" stroke="none"/><circle cx="494.61" cy="395.29" r="1.95" stroke="none"/><circle cx="497.11" cy="396.4" r="1.95" stroke="none"/><circle cx="499.61" cy="397.52" r="1.95" stroke="none"/><circle cx="502.1" cy="398.85" r="1.95" stroke="none"/><circle cx="504.6" cy="399.74" r="1.95" stroke="none"/><circle cx="507.1" cy="400.63" r="1.95" stroke="none"/><circle cx="509.59" cy="401.51" r="1.95" stroke="none"/><circle cx="512.09" cy="402.4" r="1.95" stroke="none"/><circle cx="514.59" cy="402.85" r="1.95" stroke="none"/><circle cx="517.08" cy="403.29" r="1.95" stroke="none"/><circle cx="519.58" cy="403.74" r="1.95" stroke="none"/><circle cx="522.08" cy="403.96" r="1.95" stroke="none"/><circle cx="524.57" cy="404.18" r="1.95" stroke="none"/><circle cx="527.07" cy="404.4" r="1.95" stroke="none"/><circle cx="529.57" cy="404.62" r="1.95" stroke="none"/><circle cx="532.06" cy="404.85" r="1.95" stroke="none"/><circle cx="534.56" cy="405.07" r="1.95" stroke="none"/><circle cx="537.06" cy="405.29" r="1.95" stroke="none"/><circle cx="539.55" cy="405.51" r="1.95" stroke="none"/><circle cx="542.05" cy="405.73" r="1.95" stroke="none"/><circle cx="544.55" cy="405.96" r="1.95" stroke="none"/><circle cx="547.04" cy="407.07" r="1.95" stroke="none"/><circle cx="549.54" cy="407.07" r="1.95" stroke="none"/><circle cx="552.04" cy="407.07" r="1.95" stroke="none"/><circle cx="554.53" cy="407.07" r="1.95" stroke="none"/><circle cx="557.03" cy="407.07" r="1.95" stroke="none"/><circle cx="559.53" cy="407.07" r="1.95" stroke="none"/><circle cx="562.02" cy="407.07" r="1.95" stroke="none"/><circle cx="564.52" cy="407.07" r="1.95" stroke="none"/><circle cx="567.02" cy="407.07" r="1.95" stroke="none"/><circle cx="569.51" cy="407.07" r="1.95" stroke="none"/><circle cx="572.01" cy="407.07" r="1.95" stroke="none"/><circle cx="574.51" cy="407.07" r="1.95" stroke="none"/><circle cx="577" cy="407.07" r="1.95" stroke="none"/><circle cx="579.5" cy="407.07" r="1.95" stroke="none"/><circle cx="582" cy="407.07" r="1.95" stroke="none"/><circle cx="584.49" cy="407.07" r="1.95" stroke="none"/><circle cx="586.99" cy="407.07" r="1.95" stroke="none"/><circle cx="589.49" cy="407.07" r="1.95" stroke="none"/><circle cx="591.98" cy="407.07" r="1.95" stroke="none"/><circle cx="594.48" cy="407.07" r="1.95" stroke="none"/><circle cx="596.98" cy="407.07" r="1.95" stroke="none"/><circle cx="599.47" cy="407.07" r="1.95" stroke="none"/><circle cx="601.97" cy="407.07" r="1.95" stroke="none"/><circle cx="604.47" cy="407.07" r="1.95" stroke="none"/><circle cx="606.96" cy="407.07" r="1.95" stroke="none"/><circle cx="609.46" cy="407.07" r="1.95" stroke="none"/></g>
<g fill="#DE3C64" stroke="#DE3C64"><polyline points="267.41,317.32 279.9,319.54 292.38,328.21 304.86,341.76 317.35,352.86 329.83,355.31 332.33,355.31 334.82,354.86 337.32,352.64 339.82,356.2 342.31,352.42 344.81,359.97 347.31,352.64 349.8,355.31 352.3,354.86 354.8,361.53 357.29,361.53 359.79,352.64 362.29,349.76 364.78,351.98 367.28,341.31 369.78,331.98 372.27,354.2 374.77,357.31 377.27,353.09 379.76,356.86 382.26,354.2 384.76,347.76 387.25,344.42 389.75,343.54 392.25,334.21 394.74,333.76 397.24,334.21 399.74,339.54 402.23,341.76 404.73,337.54 407.23,337.54 409.72,342.87 412.22,341.31 414.72,351.09 417.21,348.87 419.71,353.31 422.21,355.09 424.7,365.75 427.2,365.75 429.7,365.08 432.19,357.09 434.69,364.64 437.19,375.3 439.68,377.3 442.18,381.08 444.68,383.52 447.18,384.85 449.67,388.85 452.17,391.52 454.67,390.63 457.16,392.85 459.66,395.07 462.16,393.29 464.65,394.41 467.15,398.4 469.65,396.18 472.14,399.29 474.64,399.74 477.14,400.18 479.63,400.63 482.13,401.07 484.63,402.4 487.12,403.29 489.62,403.74 492.12,403.96 494.61,404.4 497.11,405.07 499.61,405.29 502.1,405.51 504.6,405.73 507.1,405.73 509.59,405.73 512.09,405.73 514.59,405.73 517.08,405.73 519.58,405.73 522.08,405.73 524.57,405.73 527.07,405.96 529.57,405.96 532.06,405.96 534.56,405.51 537.06,405.51 539.55,405.51 542.05,405.51 544.55,405.51 547.04,405.51 549.54,405.51 552.04,405.51 554.53,405.51 557.03,405.51 559.53,405.51 562.02,405.51 564.52,405.51 567.02,405.51 569.51,405.51 572.01,405.51 574.51,405.51 577,405.51 579.5,405.51 582,405.51 584.49,405.51 586.99,405.51 589.49,405.51 591.98,405.51 594.48,405.51 596.98,405.51 599.47,405.51 601.97,405.51 604.47,405.51 606.96,405.51 609.46,405.51" fill="none" stroke-width="2" stroke-linejoin="round"/>
<circle cx="267.41" cy="317.32" r="1.95" stroke="none"/><circle cx="279.9" cy="319.54" r="1.95" stroke="none"/><circle cx="292.38" cy="328.21" r="1.95" stroke="none"/><circle cx="304.86" cy="341.76" r="1.95" stroke="none"/><circle cx="317.35" cy="352.86" r="1.95" stroke="none"/><circle cx="329.83" cy="355.31" r="1.95" stroke="none"/><circle cx="332.33" cy="355.31" r="1.95" stroke="none"/><circle cx="334.82" cy="354.86" r="1.95" stroke="none"/><circle cx="337.32" cy="352.64" r="1.95" stroke="none"/><circle cx="339.82" cy="356.2" r="1.95" stroke="none"/><circle cx="342.31" cy="352.42" r="1.95" stroke="none"/><circle cx="344.81" cy="359.97" r="1.95" stroke="none"/><circle cx="347.31" cy="352.64" r="1.95" stroke="none"/><circle cx="349.8" cy="355.31" r="1.95" stroke="none"/><circle cx="352.3" cy="354.86" r="1.95" stroke="none"/><circle cx="354.8" cy="361.53" r="1.95" stroke="none"/><circle cx="357.29" cy="361.53" r="1.95" stroke="none"/><circle cx="359.79" cy="352.64" r="1.95" stroke="none"/><circle cx="362.29" cy="349.76" r="1.95" stroke="none"/><circle cx="364.78" cy="351.98" r="1.95" stroke="none"/><circle cx="367.28" cy="341.31" r="1.95" stroke="none"/><circle cx="369.78" cy="331.98" r="1.95" stroke="none"/><circle cx="372.27" cy="354.2" r="1.95" stroke="none"/><circle cx="374.77" cy="357.31" r="1.95" stroke="none"/><circle cx="377.27" cy="353.09" r="1.95" stroke="none"/><circle cx="379.76" cy="356.86" r="1.95" stroke="none"/><circle cx="382.26" cy="354.2" r="1.95" stroke="none"/><circle cx="384.76" cy="347.76" r="1.95" stroke="none"/><circle cx="387.25" cy="344.42" r="1.95" stroke="none"/><circle cx="389.75" cy="343.54" r="1.95" stroke="none"/><circle cx="392.25" cy="334.21" r="1.95" stroke="none"/><circle cx="394.74" cy="333.76" r="1.95" stroke="none"/><circle cx="397.24" cy="334.21" r="1.95" stroke="none"/><circle cx="399.74" cy="339.54" r="1.95" stroke="none"/><circle cx="402.23" cy="341.76" r="1.95" stroke="none"/><circle cx="404.73" cy="337.54" r="1.95" stroke="none"/><circle cx="407.23" cy="337.54" r="1.95" stroke="none"/><circle cx="409.72" cy="342.87" r="1.95" stroke="none"/><circle cx="412.22" cy="341.31" r="1.95" stroke="none"/><circle cx="414.72" cy="351.09" r="1.95" stroke="none"/><circle cx="417.21" cy="348.87" r="1.95" stroke="none"/><circle cx="419.71" cy="353.31" r="1.95" stroke="none"/><circle cx="422.21" cy="355.09" r="1.95" stroke="none"/><circle cx="424.7" cy="365.75" r="1.95" stroke="none"/><circle cx="427.2" cy="365.75" r="1.95" stroke="none"/><circle cx="429.7" cy="365.08" r="1.95" stroke="none"/><circle cx="432.19" cy="357.09" r="1.95" stroke="none"/><circle cx="434.69" cy="364.64" r="1.95" stroke="none"/><circle cx="437.19" cy="375.3" r="1.95" stroke="none"/><circle cx="439.68" cy="377.3" r="1.95" stroke="none"/><circle cx="442.18" cy="381.08" r="1.95" stroke="none"/><circle cx="444.68" cy="383.52" r="1.95" stroke="none"/><circle cx="447.18" cy="384.85" r="1.95" stroke="none"/><circle cx="449.67" cy="388.85" r="1.95" stroke="none"/><circle cx="452.17" cy="391.52" r="1.95" stroke="none"/><circle cx="454.67" cy="390.63" r="1.95" stroke="none"/><circle cx="457.16" cy="392.85" r="1.95" stroke="none"/><circle cx="459.66" cy="395.07" r="1.95" stroke="none"/><circle cx="462.16" cy="393.29" r="1.95" stroke="none"/><circle cx="464.65" cy="394.41" r="1.95" stroke="none"/><circle cx="467.15" cy="398.4" r="1.95" stroke="none"/><circle cx="469.65" cy="396.18" r="1.95" stroke="none"/><circle cx="472.14" cy="399.29" r="1.95" stroke="none"/><circle cx="474.64" cy="399.74" r="1.95" stroke="none"/><circle cx="477.14" cy="400.18" r="1.95" stroke="none"/><circle cx="479.63" cy="400.63" r="1.95" stroke="none"/><circle cx="482.13" cy="401.07" r="1.95" stroke="none"/><circle cx="484.63" cy="402.4" r="1.95" stroke="none"/><circle cx="487.12" cy="403.29" r="1.95" stroke="none"/><circle cx="489.62" cy="403.74" r="1.95" stroke="none"/><circle cx="492.12" cy="403.96" r="1.95" stroke="none"/><circle cx="494.61" cy="404.4" r="1.95" stroke="none"/><circle cx="497.11" cy="405.07" r="1.95" stroke="none"/><circle cx="499.61" cy="405.29" r="1.95" stroke="none"/><circle cx="502.1" cy="405.51" r="1.95" stroke="none"/><circle cx="504.6" cy="405.73" r="1.95" stroke="none"/><circle cx="507.1" cy="405.73" r="1.95" stroke="none"/><circle cx="509.59" cy="405.73" r="1.95" stroke="none"/><circle cx="512.09" cy="405.73" r="1.95" stroke="none"/><circle cx="514.59" cy="405.73" r="1.95" stroke="none"/><circle cx="517.08" cy="405.73" r="1.95" stroke="none"/><circle cx="519.58" cy="405.73" r="1.95" stroke="none"/><circle cx="522.08" cy="405.73" r="1.95" stroke="none"/><circle cx="524.57" cy="405.73" r="1.95" stroke="none"/><circle cx="527.07" cy="405.96" r="1.95" stroke="none"/><circle cx="529.57" cy="405.96" r="1.95" stroke="none"/><circle cx="532.06" cy="405.96" r="1.95" stroke="none"/><circle cx="534.56" cy="405.51" r="1.95" stroke="none"/><circle cx="537.06" cy="405.51" r="1.95" stroke="none"/><circle cx="539.55" cy="405.51" r="1.95" stroke="none"/><circle cx="542.05" cy="405.51" r="1.95" stroke="none"/><circle cx="544.55" cy="405.51" r="1.95" stroke="none"/><circle cx="547.04" cy="405.51" r="1.95" stroke="none"/><circle cx="549.54" cy="405.51" r="1.95" stroke="none"/><circle cx="552.04" cy="405.51" r="1.95" stroke="none"/><circle cx="554.53" cy="405.51" r="1.95" stroke="none"/><circle cx="557.03" cy="405.51" r="1.95" stroke="none"/><circle cx="559.53" cy="405.51" r="1.95" stroke="none"/><circle cx="562.02" cy="405.51" r="1.95" stroke="none"/><circle cx="564.52" cy="405.51" r="1.95" stroke="none"/><circle cx="567.02" cy="405.51" r="1.95" stroke="none"/><circle cx="569.51" cy="405.51" r="1.95" stroke="none"/><circle cx="572.01" cy="405.51" r="1.95" stroke="none"/><circle cx="574.51" cy="405.51" r="1.95" stroke="none"/><circle cx="577" cy="405.51" r="1.95" stroke="none"/><circle cx="579.5" cy="405.51" r="1.95" stroke="none"/><circle cx="582" cy="405.51" r="1.95" stroke="none"/><circle cx="584.49" cy="405.51" r="1.95" stroke="none"/><circle cx="586.99" cy="405.51" r="1.95" stroke="none"/><circle cx="589.49" cy="405.51" r="1.95" stroke="none"/><circle cx="591.98" cy="405.51" r="1.95" stroke="none"/><circle cx="594.48" cy="405.51" r="1.95" stroke="none"/><circle cx="596.98" cy="405.51" r="1.95" stroke="none"/><circle cx="599.47" cy="405.51" r="1.95" stroke="none"/><circle cx="601.97" cy="405.51" r="1.95" stroke="none"/><circle cx="604.47" cy="405.51" r="1.95" stroke="none"/><circle cx="606.96" cy="405.51" r="1.95" stroke="none"/><circle cx="609.46" cy="405.51" r="1.95" stroke="none"/></g>
<text x="11.7" y="445.7" style="font-size:8.4px;fill:#777">Source: Gapminder and World Bank</text>
<text x="639.7" y="446" text-anchor="end" style="font-size:8.45px;fill:#777">OurWorldInData.org • CC BY-SA</text>
</svg>
</body></html>
